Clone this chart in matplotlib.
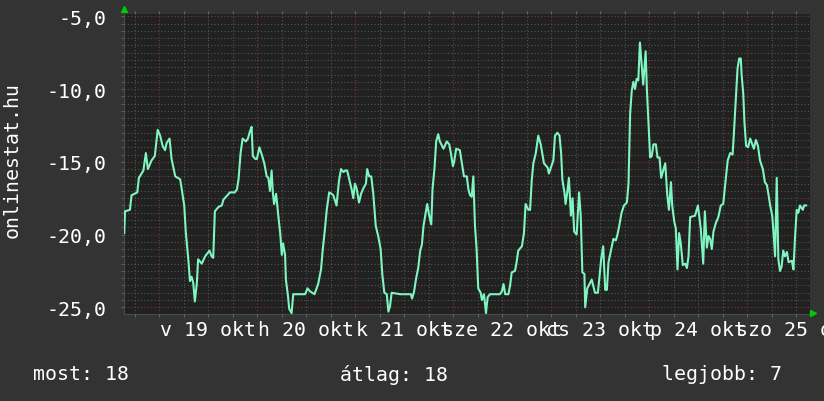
import numpy as np
import matplotlib.pyplot as plt
from matplotlib.ticker import MultipleLocator, FuncFormatter

# hours since 2025-10-19 00:00, ping values
hours = [
    -8.6, -8.4, -7.2, -6.8, -5.4, -5.0, -3.9, -3.3, -2.8, -1.9,
    -1.1, -0.4, 0.2, 0.8, 1.4, 1.8, 2.5, 3.0, 3.9, 5.1,
    5.5, 6.1, 6.5, 7.1, 7.5, 7.9, 8.3, 8.7, 9.2, 9.5,
    10.4, 11.2, 12.3, 12.8, 13.2, 13.6, 14.5, 15.3, 15.7, 17.3,
    18.5, 19.0, 19.4, 19.9, 20.4, 21.2, 21.7, 22.2, 22.6, 22.9, 23.5,
    23.9, 24.5, 25.2, 25.7, 26.3, 26.7, 27.1, 27.5, 27.8, 28.1,
    28.6, 29.1, 29.6, 30.0, 30.3, 30.8, 31.0, 31.5, 31.8, 32.4,
    32.8, 34.5, 35.7, 36.3, 36.9, 38.0, 38.9, 39.6, 40.0, 40.6,
    41.0, 41.6, 42.2, 42.6, 43.4, 44.0, 44.5, 45.1, 45.5, 46.0,
    46.5, 47.1, 47.5, 47.9, 48.3, 48.9, 49.4, 50.0, 50.6, 50.9,
    51.4, 51.9, 52.4, 53.0, 53.6, 54.2, 54.6, 55.1, 55.7, 56.1, 56.5, 56.9,
    59.0, 61.6, 61.9, 62.4, 62.9, 63.4, 63.9, 64.3, 64.7, 65.6,
    66.1, 66.6, 66.9, 67.4, 67.8, 68.3, 68.7, 69.6, 70.4, 71.0,
    71.4, 71.9, 72.2, 72.7, 73.6, 74.6, 75.3, 75.7, 76.1, 76.5,
    76.9, 77.3, 77.7, 78.1, 78.7, 79.0, 79.5, 80.0, 80.4, 81.0,
    83.4, 83.9, 84.3, 84.7, 85.5, 85.9, 86.3, 87.1, 87.5, 87.9,
    88.8, 89.3, 89.7, 90.4,
    90.8, 91.2, 91.6, 92.2, 92.8, 93.4, 94.2, 95.1, 95.4, 95.9,
    96.5, 96.9, 97.5, 98.0, 98.4, 98.7, 99.2, 99.5, 99.9, 100.3,
    100.8, 101.2, 101.6, 102.2, 102.8, 103.2, 103.6, 104.1, 104.3, 104.8,
    105.9, 106.7, 107.4, 107.8, 108.2, 108.7, 109.2, 109.6, 110.0, 110.6,
    111.2, 111.8, 112.2, 112.7, 113.2, 113.8, 114.5, 114.9, 115.3, 115.7,
    116.1, 116.5, 116.9, 117.3, 117.7, 118.2, 118.5, 118.8, 119.1, 119.4,
    119.8, 120.2, 120.6, 121.0, 121.6, 122.0, 122.5,
    122.9, 123.0, 123.9, 124.4, 124.8, 125.3, 125.6, 126.1, 126.5, 126.9,
    127.3, 127.7, 128.2, 128.8, 129.2, 129.6, 130.0, 131.2, 131.9, 132.6,
    133.2, 133.6, 134.1, 134.5, 134.9, 135.3, 135.7, 136.3, 136.9, 137.5,
    138.1, 138.6, 139.2, 139.8, 140.4, 140.7, 141.2, 141.6, 142.0, 142.4,
    142.6, 143.0, 143.3, 143.7, 144.2, 144.7, 145.2, 145.6, 146.1, 146.6,
    147.1, 147.8, 148.3, 148.8, 149.1, 149.6, 150.1, 150.4, 150.8, 151.2,
    151.6, 152.0, 152.4, 152.8, 153.2, 153.7, 154.1, 154.9, 155.3, 155.7,
    156.1, 156.5, 156.9, 157.6, 157.9, 158.4,
]
values = [
    -19.9, -18.4, -18.3, -17.3, -17.1, -16.1, -15.6, -14.4, -15.5, -14.9,
    -14.6, -12.8, -13.2, -13.9, -14.2, -13.7, -13.4, -14.8, -16.0, -16.2,
    -16.9, -18.0, -19.9, -21.7, -23.2, -22.9, -23.3, -24.6, -23.3, -21.7,
    -22.0, -21.5, -21.1, -21.5, -21.6, -18.4, -18.1, -18.0, -17.6, -17.1,
    -17.1, -16.9, -16.2, -14.4, -13.4, -13.6, -13.4, -12.9, -12.6, -14.6, -14.8,
    -14.8, -14.0, -14.6, -15.1, -16.0, -16.1, -17.0, -15.6, -17.1, -17.9,
    -17.2, -18.6, -19.9, -21.4, -20.6, -21.4, -23.1, -24.2, -25.1, -25.4,
    -24.1, -24.1, -24.1, -23.7, -23.9, -24.1, -23.4, -22.4, -21.1, -19.5,
    -18.3, -17.1, -17.2, -17.3, -18.0, -16.3, -15.5, -15.7, -15.6, -15.6,
    -16.2, -16.9, -17.5, -16.5, -16.8, -17.8, -17.2, -16.8, -16.5, -15.5,
    -16.0, -16.0, -17.2, -19.4, -20.1, -21.0, -22.7, -24.0, -24.1, -25.3, -24.9, -24.0,
    -24.1, -24.1, -24.4, -23.9, -23.0, -22.3, -21.1, -20.7, -19.4, -17.9,
    -18.7, -19.3, -16.9, -15.4, -13.6, -13.1, -13.6, -14.1, -13.6, -13.8,
    -14.4, -15.3, -15.0, -14.1, -14.2, -16.0, -16.0, -16.9, -17.3, -17.4,
    -16.0, -19.4, -21.0, -23.7, -24.0, -24.5, -24.1, -25.4, -24.3, -24.1,
    -24.1, -23.9, -23.4, -24.1, -24.1, -23.5, -22.6, -22.5, -21.9, -21.1,
    -20.8, -19.9, -17.9, -18.3,
    -18.3, -16.3, -15.1, -14.4, -13.2, -13.8, -15.1, -15.4, -15.8, -15.4,
    -14.9, -13.2, -13.0, -13.2, -14.4, -16.2, -17.1, -17.9, -17.1, -16.1,
    -18.7, -17.5, -19.8, -20.0, -17.1, -18.7, -22.6, -22.7, -25.0, -23.7,
    -23.1, -24.0, -24.0, -22.9, -21.7, -20.8, -23.8, -23.8, -21.9, -21.1,
    -20.3, -20.4, -20.0, -19.3, -18.5, -18.0, -17.8, -16.5, -11.7, -10.1,
    -9.5, -10.0, -9.3, -9.4, -6.8, -8.6, -9.7, -8.5, -7.4, -10.0,
    -12.3, -14.7, -14.6, -13.8, -13.8, -14.7, -14.7,
    -16.1, -16.0, -15.1, -17.3, -18.3, -16.4, -18.0, -19.1, -19.6, -22.4,
    -19.9, -20.6, -22.1, -22.0, -22.3, -21.5, -18.8, -18.7, -18.0, -19.6,
    -22.0, -18.4, -20.9, -20.1, -20.3, -21.0, -19.8, -19.2, -18.8, -18.0,
    -17.9, -16.5, -14.9, -14.4, -14.5, -13.1, -10.6, -8.6, -7.9, -7.9,
    -9.0, -10.3, -12.3, -13.9, -14.0, -13.4, -13.8, -14.1, -13.5, -13.9,
    -14.9, -15.5, -16.4, -16.6, -17.1, -18.0, -18.7, -19.8, -21.5, -16.1,
    -21.7, -22.5, -22.2, -21.1, -21.5, -21.2, -21.9, -21.8, -22.4, -20.1,
    -18.3, -18.5, -18.0, -18.3, -18.0, -18.0,
]

day_labels = ['v 19 okt', 'h 20 okt', 'k 21 okt', 'sze 22 okt',
              'cs 23 okt', 'p 24 okt', 'szo 25 okt']
y_ticks = [-25, -20, -15, -10, -5]
footer = [('most: 18', 33), ('átlag: 18', 340), ('legjobb: 7', 662)]

BG = '#333333'
PLOT_BG = '#212121'
LINE = '#7ff5c0'
MINOR = '#555555'
MAJOR = '#7a3a3a'
FS = 14.3

plt.rcParams['font.family'] = ['DejaVu Sans Mono', 'DejaVu Sans']

W, H = 824, 402
fig = plt.figure(figsize=(W / 100, H / 100), dpi=100, facecolor=BG)
ax = fig.add_axes([124 / W, (H - 315) / H, 686 / W, 300 / H])
ax.set_facecolor(PLOT_BG)

ax.plot(hours, values, color=LINE, lw=1.5, zorder=4)

ax.set_xlim(-8.65, 159.35)
ax.set_ylim(-25.46, -4.84)

# grid: minor gray dotted, major red dotted (drawn by hand so red stays on top)
ax.set_xticks(np.arange(-6, 160, 6))
ax.set_xticklabels([])
ax.set_yticks(y_ticks)
ax.yaxis.set_minor_locator(MultipleLocator(0.5))
ax.yaxis.set_major_formatter(FuncFormatter(lambda v, p: f'{v:.1f}'.replace('.', ',')))

dots = (0, (1, 2))
for h in np.arange(-6, 160, 6):
    if h % 24:
        ax.axvline(h, color=MINOR, ls=dots, lw=0.8, zorder=1)
for y in np.arange(-25.5, -4.8, 0.5):
    if y % 5:
        ax.axhline(y, color=MINOR, ls=dots, lw=0.8, zorder=1)
for d in range(0, 168, 24):
    ax.axvline(d, color=MAJOR, ls=dots, lw=0.8, zorder=2)
for y in y_ticks:
    ax.axhline(y, color=MAJOR, ls=dots, lw=0.8, zorder=2)

ax.tick_params(axis='x', which='both', direction='out', length=2, color='#666666',
               top=True, bottom=True)
ax.tick_params(axis='y', which='both', direction='out', length=2, color='#666666',
               labelcolor='white', labelsize=FS, pad=10.8)
for s in ['top', 'right']:
    ax.spines[s].set_visible(False)
for s in ['left', 'bottom']:
    ax.spines[s].set_color('#4a4a4a')

# day labels centered at noon
for i, lab in enumerate(day_labels):
    ax.text(12 + 24 * i, -0.052, lab, transform=ax.get_xaxis_transform(),
            ha='center', va='center', color='white', fontsize=FS, clip_on=False)

# rrdtool style arrows
ax.plot([0], [1.017], marker='^', ms=5, color='#00cc00', transform=ax.transAxes,
        clip_on=False, zorder=5)
ax.plot([1.0044], [0.003], marker='>', ms=5, color='#00cc00', transform=ax.transAxes,
        clip_on=False, zorder=5)

fig.text(12 / W, 1 - 160 / H, 'onlinestat.hu', rotation=90, ha='center', va='center',
         color='white', fontsize=FS)
for txt, x in footer:
    fig.text(x / W, 1 - 375 / H, txt, ha='left', va='center', color='white', fontsize=FS)

fig.savefig('out.png', dpi=100, facecolor=BG)
